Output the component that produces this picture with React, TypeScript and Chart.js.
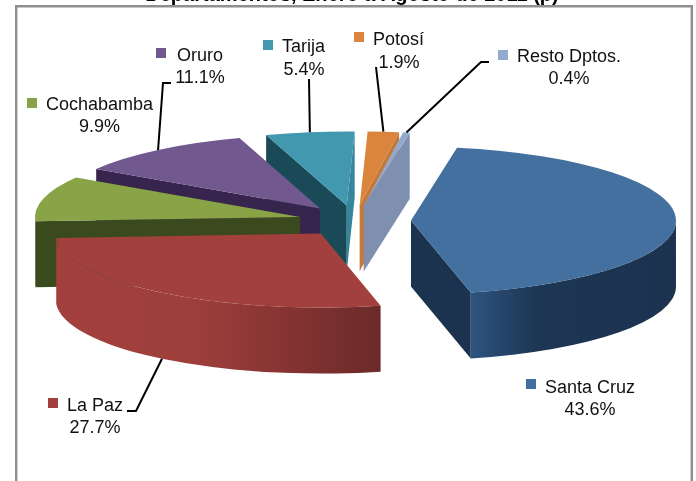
import React, { useEffect, useRef } from "react";
import { Chart, registerables } from "chart.js";

Chart.register(...registerables);

const categories = ["Santa Cruz", "La Paz", "Cochabamba", "Oruro", "Tarija", "Potosí", "Resto Dptos."];
const shares = [43.6, 27.7, 9.9, 11.1, 5.4, 1.9, 0.4];
const shareLabels = ["43.6%", "27.7%", "9.9%", "11.1%", "5.4%", "1.9%", "0.4%"];
const titleText = "Departamentos, Enero a Agosto de 2011 (p)";

const topColors = ["#44709f", "#a2403d", "#89a347", "#71588f", "#4198af", "#db843d", "#93a9cf"];
const startSideColors = ["#1c3350", "#6b2a2a", "#3b4a1e", "#38254e", "#1a4a58", "#b86f30", "#7e8fb0"];
const endSideColors = ["#1c3350", "#6b2a2a", "#3b4a1e", "#38254e", "#35869c", "#c47a35", "#7e8fb0"];
const rimStops: [number, string][][] = [
  [[0, "#1c3350"], [0.68, "#1d3653"], [1, "#2e5480"]],
  [[0, "#a2403d"], [0.42, "#9e3f3c"], [0.72, "#843332"], [1, "#6b2a2a"]],
  [[0, "#3b4a1e"], [1, "#3b4a1e"]],
  [[0, "#38254e"], [1, "#38254e"]],
  [[0, "#1a4a58"], [1, "#1a4a58"]],
  [[0, "#b86f30"], [1, "#b86f30"]],
  [[0, "#7e8fb0"], [1, "#7e8fb0"]],
];

// Back-to-front paint order of the wedges
const paintOrder = [4, 5, 6, 3, 2, 1, 0];

// Projection of the 3-D pie
const CX = 354.6;
const CY = 221;
const RADIUS = 265;
const SQUASH = 0.279;
const EXPLODE = 56.4;
const DEPTH = 66;

// Label placement: marker corner, first-line x and baseline, second-line centre and baseline
const labelLayout = [
  { mx: 526, my: 379, tx: 545, ty: 393, cx: 590, vy: 415, lead: null },
  { mx: 48, my: 398, tx: 67, ty: 411, cx: 95, vy: 433, lead: [[127, 411], [136, 411]] },
  { mx: 27, my: 98, tx: 46, ty: 110, cx: 99.5, vy: 132, lead: null },
  { mx: 156, my: 48, tx: 177, ty: 61, cx: 200, vy: 83, lead: [[171, 83], [163, 83]] },
  { mx: 263, my: 40, tx: 282, ty: 52, cx: 304, vy: 75, lead: [[309, 79]] },
  { mx: 354, my: 32, tx: 373, ty: 45, cx: 399, vy: 68, lead: [[376, 67]] },
  { mx: 498, my: 50, tx: 517, ty: 62, cx: 569, vy: 84, lead: [[489, 62], [481, 62]] },
];

const pie3d = {
  id: "pie3d",
  beforeDraw(chart: any) {
    const ctx = chart.ctx;
    ctx.save();
    ctx.fillStyle = "#ffffff";
    ctx.fillRect(0, 0, chart.width, chart.height);
    ctx.strokeStyle = "#8f8f8f";
    ctx.lineWidth = 2.4;
    ctx.beginPath();
    ctx.moveTo(16.2, 481);
    ctx.lineTo(16.2, 6.2);
    ctx.lineTo(691.8, 6.2);
    ctx.lineTo(691.8, 481);
    ctx.stroke();
    ctx.restore();
  },
  beforeDatasetDraw(chart: any) {
    const ctx = chart.ctx;
    const arcs = chart.getDatasetMeta(0).data;
    for (const i of paintOrder) {
      const arc = arcs[i];
      const { x, y, startAngle: a0, endAngle: a1, outerRadius: r } = arc;
      const mid = (a0 + a1) / 2;
      const h = DEPTH / SQUASH;
      ctx.save();
      ctx.translate(x, y);
      ctx.scale(1, SQUASH);
      ctx.translate(-x, -y);
      ctx.translate(Math.cos(mid) * EXPLODE, Math.sin(mid) * EXPLODE);

      const face = (angle: number, color: string) => {
        const ex = x + Math.cos(angle) * r;
        const ey = y + Math.sin(angle) * r;
        ctx.fillStyle = color;
        ctx.beginPath();
        ctx.moveTo(x, y);
        ctx.lineTo(ex, ey);
        ctx.lineTo(ex, ey + h);
        ctx.lineTo(x, y + h);
        ctx.closePath();
        ctx.fill();
      };
      if (Math.cos(a0) < 0) face(a0, startSideColors[i]);
      if (Math.cos(a1) > 0) face(a1, endSideColors[i]);

      const from = Math.max(a0, 0);
      const to = Math.min(a1, Math.PI);
      if (to > from) {
        const gx0 = x + Math.cos(to) * r;
        const gx1 = x + Math.cos(from) * r;
        const grad = ctx.createLinearGradient(i === 0 ? gx1 : gx0, 0, i === 0 ? gx0 : gx1, 0);
        for (const [p, c] of rimStops[i]) grad.addColorStop(p, c);
        ctx.fillStyle = grad;
        ctx.beginPath();
        ctx.arc(x, y, r, from, to);
        ctx.lineTo(x + Math.cos(to) * r, y + Math.sin(to) * r + h);
        ctx.arc(x, y + h, r, to, from, true);
        ctx.closePath();
        ctx.fill();
      }
      arc.draw(ctx);
      ctx.restore();
    }
    return false;
  },
  afterDraw(chart: any) {
    const ctx = chart.ctx;
    const arcs = chart.getDatasetMeta(0).data;
    ctx.save();
    ctx.textBaseline = "alphabetic";
    ctx.fillStyle = "#000000";
    ctx.font = 'bold 20px "Liberation Sans"';
    ctx.textAlign = "center";
    ctx.fillText(titleText, 352, 0.5);

    ctx.strokeStyle = "#000000";
    ctx.lineWidth = 2;
    categories.forEach((name, i) => {
      const l = labelLayout[i];
      const arc = arcs[i];
      ctx.fillStyle = topColors[i];
      ctx.fillRect(l.mx, l.my, 10, 10);
      ctx.fillStyle = "#111111";
      ctx.font = '18px "Liberation Sans"';
      ctx.textAlign = "left";
      ctx.fillText(name, l.tx, l.ty);
      ctx.textAlign = "center";
      ctx.fillText(shareLabels[i], l.cx, l.vy);
      if (l.lead) {
        const mid = (arc.startAngle + arc.endAngle) / 2;
        const dist = arc.outerRadius + EXPLODE;
        const sin = Math.sin(mid);
        const ex = arc.x + Math.cos(mid) * dist;
        const ey = arc.y + sin * dist * SQUASH + (sin > 0 ? DEPTH : 0);
        ctx.beginPath();
        l.lead.forEach(([px, py]: number[], k: number) => (k ? ctx.lineTo(px, py) : ctx.moveTo(px, py)));
        ctx.lineTo(ex, ey);
        ctx.stroke();
      }
    });
    ctx.restore();
  },
};

export default function App() {
  const ref = useRef<HTMLCanvasElement>(null);
  useEffect(() => {
    const chart = new Chart(ref.current as HTMLCanvasElement, {
      type: "pie",
      data: {
        labels: categories,
        datasets: [
          {
            data: shares,
            backgroundColor: topColors,
            borderWidth: 0,
            radius: RADIUS,
            clip: false,
          } as any,
        ],
      },
      options: {
        responsive: false,
        animation: false,
        rotation: 10,
        layout: { padding: { left: 2 * CX - 696, right: 0, top: 0, bottom: 481 - 2 * CY } },
        plugins: { legend: { display: false }, title: { display: false }, tooltip: { enabled: false } },
      },
      plugins: [pie3d],
    } as any);
    return () => chart.destroy();
  }, []);
  return (
    <canvas
      ref={ref}
      width={696}
      height={481}
      style={{ position: "absolute", left: 0, top: 0, width: 696, height: 481 }}
    />
  );
}
